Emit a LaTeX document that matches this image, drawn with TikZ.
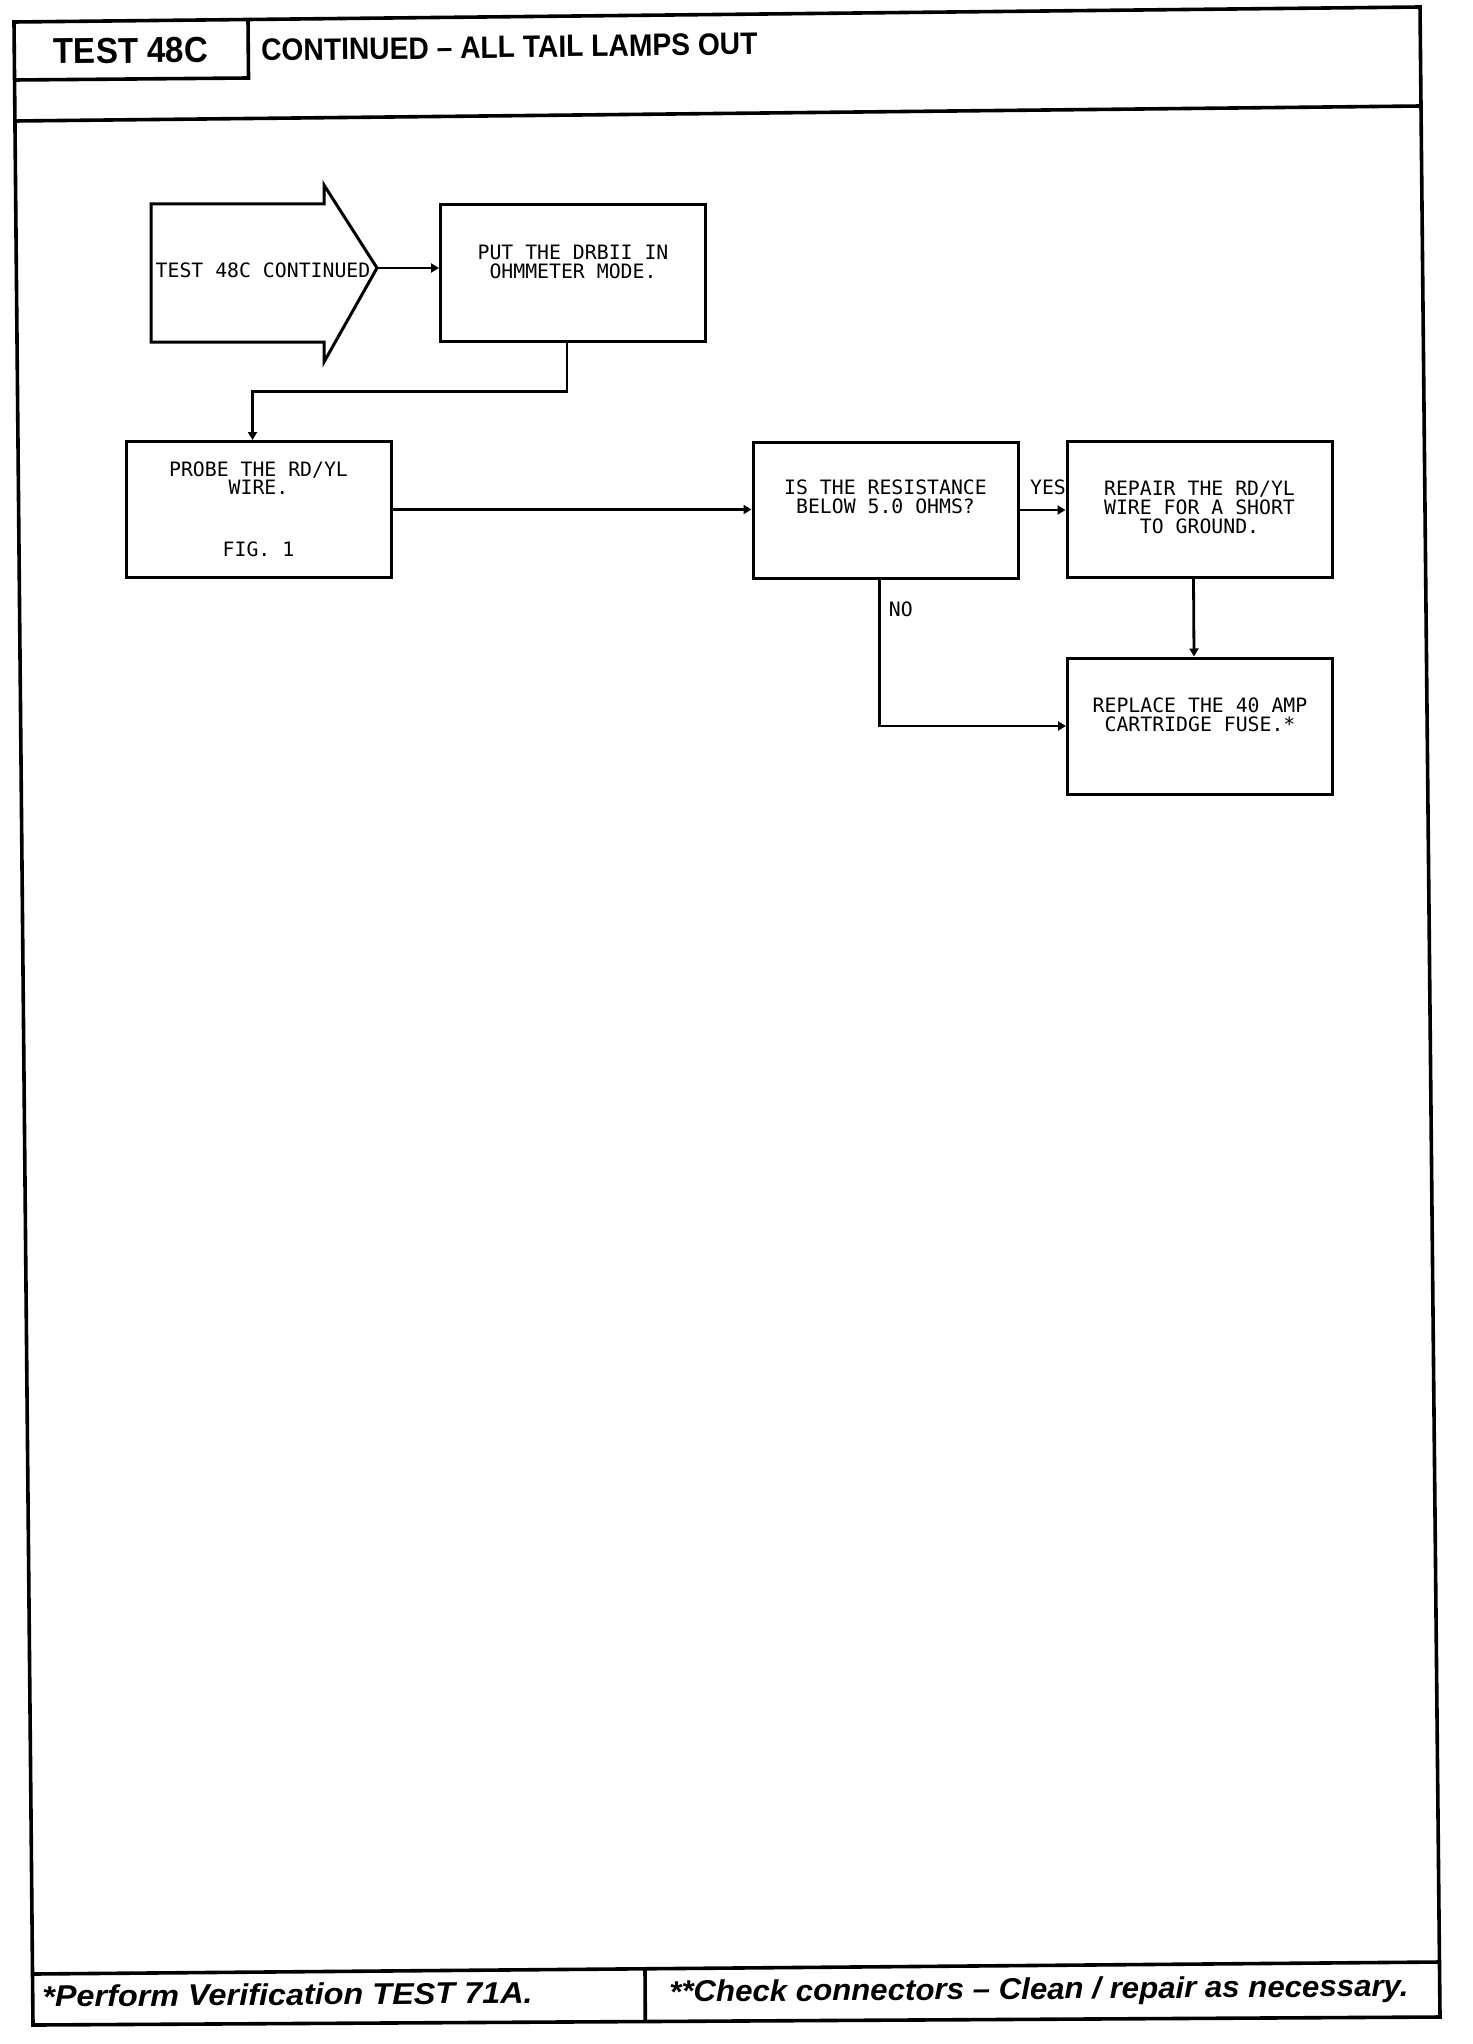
\documentclass[tikz,border=0pt]{standalone}
\usepackage{fontspec}
\newfontfamily\plotfont{DejaVu Sans Mono}
\newfontfamily\headfont{Liberation Sans}
\usetikzlibrary{arrows.meta}
\newcommand{\boxtxt}[2]{\parbox[c][68pt][t]{132.5pt}{\centering\vspace*{#1}#2}}

\begin{document}
\begin{tikzpicture}
[x=0.5pt,y=-0.5pt,
 ar/.style={-{Triangle[length=4pt,width=4.5pt]},line width=1.4pt},
 no/.style={draw,line width=1.5pt,minimum width=132.5pt,minimum height=68pt,inner sep=0pt,font=\plotfont\fontsize{9.9pt}{9.3pt}\selectfont},
 lb/.style={inner sep=0pt,font=\plotfont\fontsize{9.9pt}{9.3pt}\selectfont},
 frm/.style={line width=1.8pt},
 ft/.style={inner sep=0pt,anchor=base west,rotate=0.45,font=\headfont\bfseries\itshape\fontsize{15pt}{17pt}\selectfont}]
\useasboundingbox (0,0) rectangle (1472,2044);
\fill [white] (0,0) rectangle (1472,2044);

\draw [frm] (14,22) -- (1420,7) -- (1440,2017) -- (33,2025) -- cycle;
\draw [frm] (14.9,121) -- (1421,106);
\draw [frm] (14.7,80) -- (248.5,78) -- (248,19.5);
\draw [frm] (32.3,1974) -- (1439.5,1962);
\draw [frm] (645,1969) -- (645.3,2021.5);

\node [inner sep=0pt,anchor=base,xscale=0.92,rotate=0.6,font=\headfont\bfseries\fontsize{18pt}{20pt}\selectfont] (testno) at (131,63) {TEST 48C};
\node [inner sep=0pt,anchor=base west,xscale=0.91,rotate=0.7,font=\headfont\bfseries\fontsize{15.5pt}{18pt}\selectfont] (title) at (261,61) {CONTINUED – ALL TAIL LAMPS OUT};
\node [ft,xscale=1.08] (footl) at (42,2007) {*Perform Verification TEST 71A.};
\node [ft,xscale=1.04] (footr) at (669,2002) {**Check connectors – Clean / repair as necessary.};

\draw [line width=1.5pt] (151,204) -- (324,204) -- (324,185) -- (377,268) -- (324,362) -- (324,342) -- (151,342) -- cycle;
\node [lb] (start) at (263,270.5) {TEST 48C CONTINUED};
\coordinate (tip) at (377,268);

\node [no] (put) at (573,273) {\boxtxt{20pt}{PUT THE DRBII IN\\OHMMETER MODE.}};
\node [no] (probe) at (258.5,509.5) {\boxtxt{10pt}{PROBE THE RD/YL\\WIRE.\\[21.7pt]FIG. 1}};
\node [no] (quest) at (885.5,510) {\boxtxt{19pt}{IS THE RESISTANCE\\BELOW 5.0 OHMS?}};
\node [no] (repair) at (1199.5,509.5) {\boxtxt{20pt}{REPAIR THE RD/YL\\WIRE FOR A SHORT\\TO GROUND.}};
\node [no] (replace) at (1200,726) {\boxtxt{20pt}{REPLACE THE 40 AMP\\CARTRIDGE FUSE.*}};

\draw [ar] (tip) -- (tip -| put.west);
\draw [ar] ([xshift=-3pt]put.south) -- ++(0,49) -| ([xshift=-3pt]probe.north);
\draw [ar] (probe.east) -- (probe.east -| quest.west);
\draw [ar] (quest.east) -- (quest.east -| repair.west) node [lb,pos=0.62,anchor=south,yshift=7pt] (yes) {YES};
\draw [ar] ([xshift=-3pt]quest.south) |- (replace.west) node [lb,pos=0.1,anchor=west,xshift=4pt] (no) {NO};
\draw [ar] ([xshift=-3pt]repair.south) -- ([xshift=-3pt]replace.north);
\end{tikzpicture}
\end{document}
